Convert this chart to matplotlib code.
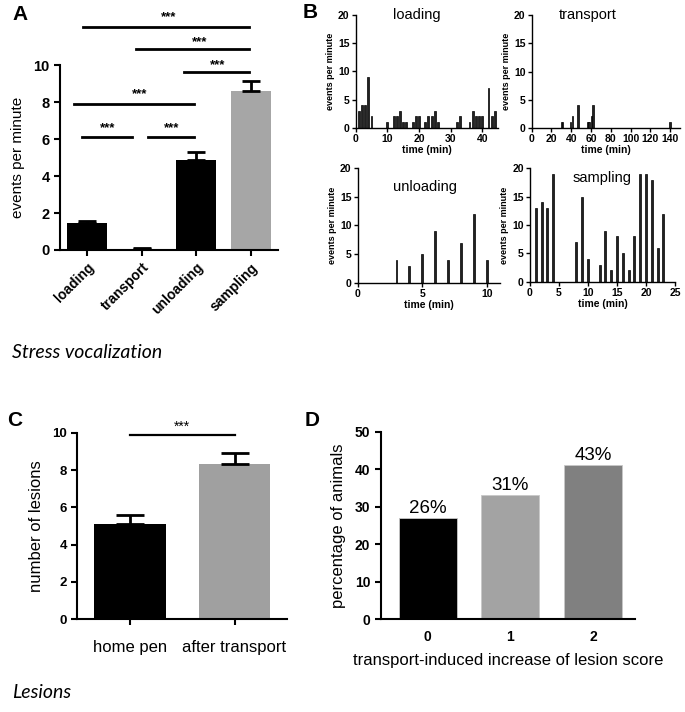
import matplotlib
matplotlib.use("Agg")
import matplotlib.pyplot as plt

plt.rcParams['font.family'] = ['Liberation Sans', 'DejaVu Sans']

# ---------------- data ----------------
A_cats = ['loading', 'transport', 'unloading', 'sampling']
A_means = [1.45, 0.07, 4.88, 8.62]
A_sem = [0.10, 0.02, 0.44, 0.55]
A_colors = ['black', 'black', 'black', '#a6a6a6']
# significance annotations: (x start, x end, line height, star x, star y)
A_sig = [(-0.07, 2.97, 12.1, 1.49, 12.62),
         (0.90, 2.97, 10.9, 2.07, 11.25),
         (1.78, 2.97, 9.65, 2.39, 10.0),
         (-0.24, 1.96, 7.93, 0.97, 8.42),
         (-0.09, 0.83, 6.13, 0.37, 6.58),
         (1.12, 1.96, 6.13, 1.54, 6.58)]

loading_min = [1, 2, 3, 4, 5, 10, 12, 13, 14, 15, 16, 18, 19, 20, 22, 23, 24, 25, 26,
               32, 33, 36, 37, 38, 39, 40, 42, 43, 44]
loading_ev = [3, 4, 4, 9, 2, 1, 2, 2, 3, 1, 1, 1, 2, 2, 1, 2, 2, 3, 1,
              1, 2, 1, 3, 2, 2, 2, 7, 2, 3]
transport_min = [30, 31, 39, 41, 47, 57, 58, 61, 62, 140]
transport_ev = [1, 1, 1, 2, 4, 1, 1, 2, 4, 1]
unloading_min = [3, 4, 5, 6, 7, 8, 9, 10]
unloading_ev = [4, 3, 5, 9, 4, 7, 12, 4]
sampling_min = [1, 2, 3, 4, 8, 9, 10, 12, 13, 14, 15, 16, 17, 18, 19, 20, 21, 22, 23]
sampling_ev = [13, 14, 13, 19, 7, 15, 4, 3, 9, 2, 8, 5, 2, 8, 19, 19, 18, 6, 12]

C_cats = ['home pen', 'after transport']
C_means = [5.08, 8.30]
C_sem = [0.53, 0.60]
C_colors = ['black', '#a0a0a0']

D_cats = ['0', '1', '2']
D_vals = [27, 33, 41]
D_labels = ['26%', '31%', '43%']
D_colors = ['black', '#a3a3a3', '#808080']

fig = plt.figure(figsize=(6.85, 7.12), dpi=100)


def style(ax, lw=1.5):
    for s in ['top', 'right']:
        ax.spines[s].set_visible(False)
    for s in ['left', 'bottom']:
        ax.spines[s].set_linewidth(lw)
    ax.tick_params(width=lw)


# ---------------- Panel A ----------------
axA = fig.add_axes([0.0876, 0.6489, 0.3182, 0.2594])
xA = list(range(len(A_cats)))
axA.bar(xA, A_means, width=0.73, color=A_colors)
axA.errorbar(xA, A_means, yerr=[[0] * len(A_sem), A_sem], fmt='none',
             ecolor='black', elinewidth=2, capsize=6.5, capthick=2)
axA.set_xlim(-0.5, 3.5)
axA.set_ylim(0, 10)
axA.set_yticks([0, 2, 4, 6, 8, 10])
axA.set_xticks(xA)
axA.set_xticklabels(A_cats, rotation=45, ha='right', rotation_mode='anchor',
                    fontweight='bold', fontsize=10)
for lab in axA.get_yticklabels():
    lab.set_fontweight('bold')
    lab.set_fontsize(10.5)
axA.set_ylabel('events per minute', fontsize=11, labelpad=6)
style(axA)
axA.tick_params(length=4)
for x1, x2, y, sx, sy in A_sig:
    axA.plot([x1, x2], [y, y], color='black', lw=2, clip_on=False)
    axA.text(sx, sy, '***', ha='center', va='center', fontsize=9.5,
             fontweight='bold', clip_on=False)

fig.text(20 / 685, 1 - 14 / 712, 'A', fontsize=15, fontweight='bold',
         ha='center', va='center')
fig.text(310 / 685, 1 - 13 / 712, 'B', fontsize=15, fontweight='bold',
         ha='center', va='center')
fig.text(15 / 685, 1 - 420 / 712, 'C', fontsize=15, fontweight='bold',
         ha='center', va='center')
fig.text(312 / 685, 1 - 420 / 712, 'D', fontsize=15, fontweight='bold',
         ha='center', va='center')

fig.text(12 / 685, 1 - 352 / 712, 'Stress vocalization', fontsize=14,
         fontstyle='italic', family='Lato', ha='left', va='center')
fig.text(12 / 685, 1 - 693 / 712, 'Lesions', fontsize=14,
         fontstyle='italic', family='Lato', ha='left', va='center')

# ---------------- Panel B ----------------
B_specs = [
    ([0.5193, 0.8206, 0.2077, 0.1583], loading_min, loading_ev, 0.6, (0, 45),
     [0, 10, 20, 30, 40], 'loading', (0.43, 1.0)),
    ([0.7762, 0.8206, 0.2166, 0.1579], transport_min, transport_ev, 1.5, (0, 150),
     [0, 20, 40, 60, 80, 100, 120, 140], 'transport', (0.38, 1.0)),
    ([0.5222, 0.6030, 0.2077, 0.1607], unloading_min, unloading_ev, 0.15, (0, 11),
     [0, 5, 10], 'unloading', (0.47, 0.84)),
    ([0.7737, 0.6044, 0.2117, 0.1593], sampling_min, sampling_ev, 0.35, (0, 25),
     [0, 5, 10, 15, 20, 25], 'sampling', (0.50, 0.91)),
]
for rect, mins, evs, w, xl, xt, title, tpos in B_specs:
    ax = fig.add_axes(rect)
    ax.bar(mins, evs, width=w, color='#222222', edgecolor='black', linewidth=0.5)
    ax.set_xlim(*xl)
    ax.set_ylim(0, 20)
    ax.set_xticks(xt)
    ax.set_yticks([0, 5, 10, 15, 20])
    style(ax, lw=1.0)
    ax.tick_params(length=3, pad=1.5, labelsize=7.5)
    for lab in ax.get_xticklabels() + ax.get_yticklabels():
        lab.set_fontweight('bold')
    ax.set_ylabel('events per minute', fontsize=6.5, fontweight='bold', labelpad=2)
    ax.set_xlabel('time (min)', fontsize=7.5, fontweight='bold', labelpad=0.5)
    ax.text(tpos[0], tpos[1], title, transform=ax.transAxes, ha='center',
            va='center', fontsize=10.5)

# ---------------- Panel C ----------------
axC = fig.add_axes([0.1128, 0.1302, 0.3061, 0.2621])
xC = list(range(len(C_cats)))
axC.bar(xC, C_means, width=0.685, color=C_colors)
axC.errorbar(xC, C_means, yerr=[[0] * len(C_sem), C_sem], fmt='none',
             ecolor='black', elinewidth=2, capsize=10, capthick=2)
axC.set_xlim(-0.5, 1.5)
axC.set_ylim(0, 10)
axC.set_yticks([0, 2, 4, 6, 8, 10])
axC.set_xticks(xC)
axC.set_xticklabels(C_cats, fontsize=12)
axC.tick_params(axis='x', pad=11)
for lab in axC.get_yticklabels():
    lab.set_fontweight('bold')
    lab.set_fontsize(9.5)
axC.set_ylabel('number of lesions', fontsize=12, labelpad=6)
style(axC)
axC.tick_params(length=4)
axC.plot([0, 1], [9.87, 9.87], color='black', lw=1.6, clip_on=False)
axC.text(0.5, 10.3, '***', ha='center', va='center', fontsize=10, clip_on=False)

# ---------------- Panel D ----------------
axD = fig.add_axes([0.5558, 0.1302, 0.3712, 0.2635])
xD = list(range(len(D_cats)))
bars = axD.bar(xD, D_vals, width=0.7, color=D_colors, edgecolor='#c8c8c8',
               linewidth=0.6)
axD.set_xlim(-0.57, 2.51)
axD.set_ylim(0, 50)
axD.set_yticks([0, 10, 20, 30, 40, 50])
axD.set_xticks(xD)
axD.set_xticklabels(D_cats)
for lab in axD.get_xticklabels() + axD.get_yticklabels():
    lab.set_fontweight('bold')
    lab.set_fontsize(10)
style(axD)
axD.tick_params(axis='x', length=0, pad=8)
axD.tick_params(axis='y', length=4)
for x, v, t in zip(xD, D_vals, D_labels):
    axD.text(x, v + 0.3, t, ha='center', va='bottom', fontsize=13.5)
axD.set_ylabel('percentage of animals', fontsize=12, labelpad=6)
axD.set_xlabel('transport-induced increase of lesion score', fontsize=12,
               labelpad=6)

fig.savefig('out.png', dpi=100)
